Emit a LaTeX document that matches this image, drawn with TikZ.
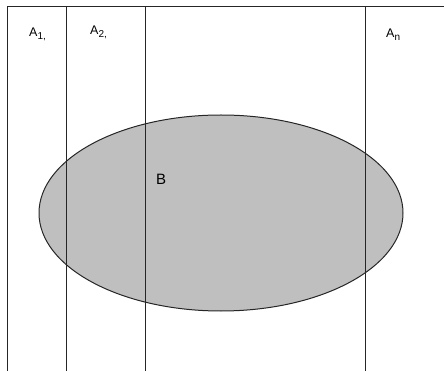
\documentclass[tikz,border=0pt]{standalone}
\usepackage{fontspec}
\setmainfont{Liberation Sans}
\usetikzlibrary{shapes.geometric}
\newcommand{\mysub}[1]{\raisebox{-2.5pt}{\fontsize{10}{10}\selectfont #1}}
\begin{document}
\begin{tikzpicture}[x=1pt,y=-1pt,
  frameline/.style={draw=black!85,line width=1pt},
  setlabel/.style={anchor=base west,inner sep=0pt,font=\fontsize{12.5}{13}\selectfont},
  blob/.style={ellipse,draw=black!85,line width=1pt,fill=black!25,inner sep=0pt,minimum width=364pt,minimum height=196pt}]
\useasboundingbox (0,0) rectangle (444,371);
\node[blob] (B) at (221,213) {};
\coordinate (tl) at (7.5,6.5);
\coordinate (tr) at (444,6.5);
\draw[frameline] (tl) -- (tr);
\foreach \x/\n in {7.5/l0,66.5/l1,145.5/l2,365.5/l3}{
  \coordinate (\n top) at (\x,6.5);
  \coordinate (\n bot) at (\x,371);
  \draw[frameline] (\n top) -- (\n bot);
}
\node[setlabel] (a1) at (29,37) {A\mysub{1,}};
\node[setlabel] (a2) at (90,35) {A\mysub{2,}};
\node[setlabel] (an) at (386,38) {A\mysub{n}};
\node[anchor=base west,inner sep=0pt,font=\fontsize{15}{15}\selectfont] (blabel) at (156,185) {B};
\end{tikzpicture}
\end{document}
